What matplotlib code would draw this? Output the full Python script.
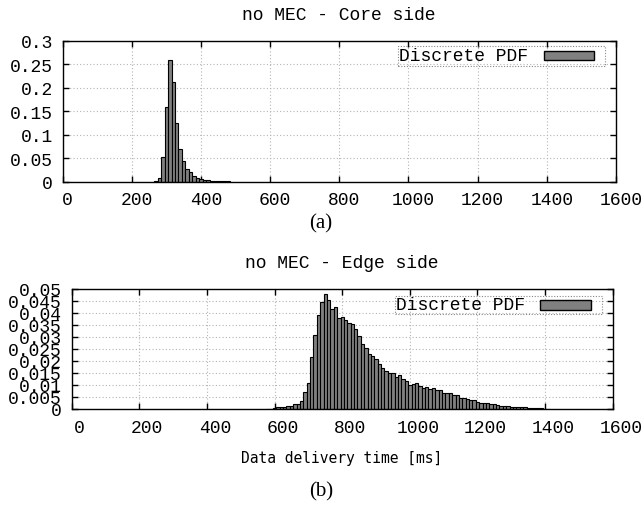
import numpy as np
import matplotlib
matplotlib.use('Agg')
import matplotlib.pyplot as plt
from matplotlib.patches import Rectangle
from matplotlib.transforms import ScaledTranslation

# bin centres [ms] and discrete PDF values
core_bins = np.arange(270, 490, 10)
core_pdf = [0.002, 0.008, 0.052, 0.160, 0.258, 0.213, 0.124, 0.070, 0.043, 0.027,
            0.020, 0.013, 0.008, 0.006, 0.004, 0.003, 0.002, 0.0015, 0.001, 0.001,
            0.0007, 0.0005]

edge_bins = np.arange(580, 1420, 10)
edge_pdf = [0.0001, 0.0002, 0.0004, 0.0008, 0.0009, 0.0009, 0.0011, 0.0014, 0.0019, 0.0021,
            0.0035, 0.0072, 0.0108, 0.0215, 0.0310, 0.0390, 0.0445, 0.0480, 0.0455, 0.0415,
            0.0425, 0.0380, 0.0385, 0.0370, 0.0360, 0.0355, 0.0335, 0.0306, 0.0270, 0.0253,
            0.0229, 0.0220, 0.0208, 0.0188, 0.0171, 0.0160, 0.0149, 0.0149, 0.0132, 0.0143,
            0.0125, 0.0115, 0.0101, 0.0104, 0.0110, 0.0094, 0.0089, 0.0090, 0.0082, 0.0088,
            0.0078, 0.0080, 0.0068, 0.0066, 0.0066, 0.0060, 0.0057, 0.0046, 0.0045, 0.0041,
            0.0038, 0.0036, 0.0031, 0.0027, 0.0024, 0.0023, 0.0021, 0.0019, 0.0017, 0.0014,
            0.0012, 0.0011, 0.0010, 0.0008, 0.0008, 0.0009, 0.0007, 0.0005, 0.0004, 0.0004,
            0.0003, 0.0003, 0.0002, 0.0002]

x_ticks = [0, 200, 400, 600, 800, 1000, 1200, 1400, 1600]
core_yticks = [0, 0.05, 0.1, 0.15, 0.2, 0.25, 0.3]
core_ylabels = ['0', '0.05', '0.1', '0.15', '0.2', '0.25', '0.3']
edge_yticks = [0, 0.005, 0.01, 0.015, 0.02, 0.025, 0.03, 0.035, 0.04, 0.045, 0.05]
edge_ylabels = ['0', '0.005', '0.01', '0.015', '0.02', '0.025', '0.03', '0.035',
                '0.04', '0.045', '0.05']

MONO = 'Liberation Mono'
plt.rcParams['font.family'] = MONO

W, H = 642, 506
fig = plt.figure(figsize=(W / 100, H / 100), dpi=100)


def fx(x):
    return x / W


def fy(y):
    return 1 - y / H


def make_axes(l, t, r, b):
    return fig.add_axes([fx(l), fy(b), (r - l) / W, (b - t) / H])


def style(ax, yticks, ylabels, shift):
    ax.set_xlim(0, 1600)
    ax.set_ylim(yticks[0], yticks[-1])
    ax.set_xticks(x_ticks)
    ax.set_yticks(yticks)
    ax.set_yticklabels(ylabels)
    ax.tick_params(direction='in', length=4, width=1, top=True, right=True,
                   labelsize=13, pad=7)
    ax.grid(True, color='#b4b4b4', linestyle=(0, (1, 2)), linewidth=0.8)
    ax.set_axisbelow(True)
    for s in ax.spines.values():
        s.set_linewidth(1.0)
    off = ScaledTranslation(shift / 100, 0, fig.dpi_scale_trans)
    for lab in ax.get_xticklabels():
        lab.set_transform(lab.get_transform() + off)


def legend_box(l, t, r, b, sw_l, sw_r, sw_t, sw_b):
    fig.patches.append(Rectangle((fx(l), fy(b)), (r - l) / W, (b - t) / H,
                                 transform=fig.transFigure, fill=False,
                                 edgecolor='#888888', linestyle=(0, (1, 1.5)),
                                 linewidth=0.8))
    fig.patches.append(Rectangle((fx(sw_l), fy(sw_b)), (sw_r - sw_l) / W,
                                 (sw_b - sw_t) / H, transform=fig.transFigure,
                                 facecolor='#808080', edgecolor='black', linewidth=1.0))
    fig.text(fx(l + 1), fy((t + b) / 2), 'Discrete PDF', fontsize=13,
             family=MONO, ha='left', va='center')


# (a) core side
ax1 = make_axes(62.6, 41.7, 616, 182.7)
ax1.bar(core_bins, core_pdf, width=10, color='#808080', edgecolor='black', linewidth=0.8)
style(ax1, core_yticks, core_ylabels, 5)
fig.text(fx(339), fy(15), 'no MEC - Core side', fontsize=13, ha='center', va='center')
legend_box(398, 46.7, 604.6, 66.7, 544, 594, 51.7, 61)
fig.text(0.5, fy(224), '(a)', fontsize=15, family='Liberation Serif',
         ha='center', va='center')

# (b) edge side
ax2 = make_axes(71.6, 290, 612.8, 410)
ax2.bar(edge_bins, edge_pdf, width=10, color='#808080', edgecolor='black', linewidth=0.8)
style(ax2, edge_yticks, edge_ylabels, 8)
fig.text(fx(342), fy(264), 'no MEC - Edge side', fontsize=13, ha='center', va='center')
legend_box(395, 296.7, 602, 315, 540, 591, 301, 311)
fig.text(fx(342), fy(459), 'Data delivery time [ms]', fontsize=10.5,
         family='DejaVu Sans Mono', ha='center', va='center')
fig.text(0.5, fy(492), '(b)', fontsize=15, family='Liberation Serif',
         ha='center', va='center')

fig.savefig('out.png', dpi=100)
